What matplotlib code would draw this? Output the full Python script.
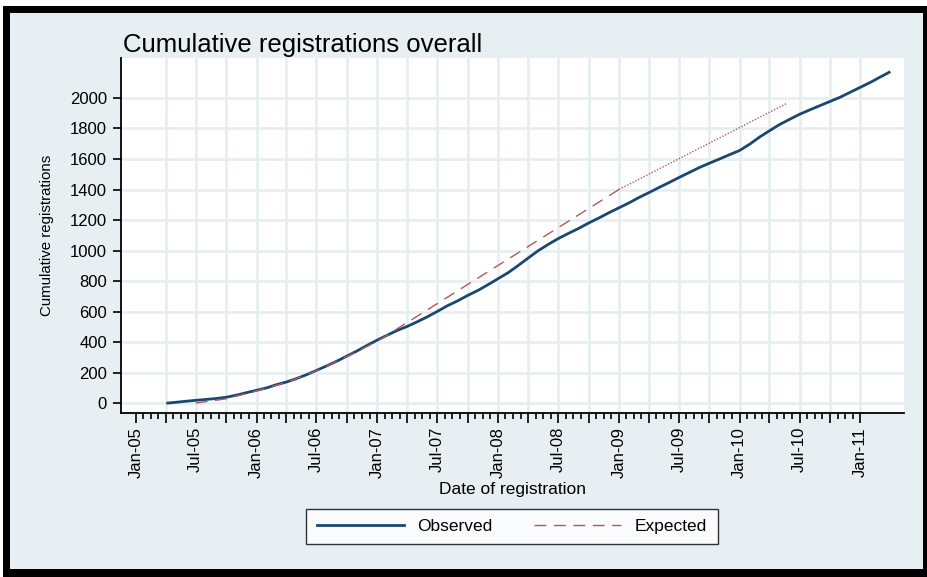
import numpy as np
import pandas as pd
import matplotlib
matplotlib.use('Agg')
import matplotlib.pyplot as plt
import matplotlib.dates as mdates
from matplotlib.patches import Rectangle

plt.rcParams['font.family'] = ['Liberation Sans', 'DejaVu Sans']

# observed cumulative registrations (months since Jan 2005)
obs_month = [3.2, 4, 5, 6, 7, 8, 9, 10, 11, 12, 13, 14, 15, 16, 17, 18, 19, 20,
             21, 22, 23, 24, 25, 26, 27, 28, 29, 30, 31, 32, 33, 34, 35, 36, 37,
             38, 39, 40, 41, 42, 43, 44, 45, 46, 47, 48, 49, 50, 51, 52, 53, 54,
             55, 56, 57, 58, 59, 60, 61, 62, 63, 64, 65, 66, 67, 68, 69, 70, 71,
             72, 73, 74, 74.9]
obs_value = [0, 5, 12, 18, 24, 30, 38, 52, 68, 84, 100, 120, 138, 160, 186, 214,
             244, 275, 308, 342, 378, 413, 446, 475, 502, 532, 565, 600, 638, 670,
             705, 738, 775, 815, 855, 900, 950, 998, 1040, 1078, 1112, 1145, 1180,
             1213, 1247, 1280, 1313, 1346, 1379, 1412, 1445, 1478, 1511, 1544, 1572,
             1600, 1628, 1656, 1698, 1742, 1785, 1825, 1860, 1893, 1922, 1950, 1977,
             2005, 2037, 2070, 2103, 2136, 2168]

# expected registrations: dashed part, then dotted projection
exp_month = [6, 9, 12, 15, 18, 21, 24, 48]
exp_value = [0, 28, 80, 135, 212, 305, 405, 1400]
proj_month = [48, 64.8]
proj_value = [1400, 1967]


def to_date(m):
    base = pd.Timestamp('2005-01-01')
    out = []
    for v in m:
        whole = int(np.floor(v))
        start = base + pd.DateOffset(months=whole)
        end = base + pd.DateOffset(months=whole + 1)
        out.append(start + (end - start) * (v - whole))
    return mdates.date2num(pd.to_datetime(out))


W, H = 928, 577
fig = plt.figure(figsize=(W / 100, H / 100), dpi=100, facecolor='white')
fig.patches.append(Rectangle((3 / W, 0), 1, 1 - 6 / H, transform=fig.transFigure,
                             facecolor='black', edgecolor='none', zorder=-10))
fig.patches.append(Rectangle((10 / W, 8 / H), (923 - 10) / W, (569 - 13) / H,
                             transform=fig.transFigure, facecolor='#e8eff2',
                             edgecolor='none', zorder=-9))

ax = fig.add_axes([121 / W, 1 - 413 / H, (904 - 121) / W, (413 - 58) / H])
ax.set_facecolor('white')

ax.plot(to_date(obs_month), obs_value, color='#1a476f', lw=2.0, zorder=3,
        label='Observed')
ax.plot(to_date(exp_month), exp_value, color='#b0585f', lw=1.0,
        dashes=(8.5, 5.5), zorder=4, label='Expected')
ax.plot(to_date(proj_month), proj_value, color='#b0585f', lw=1.0,
        dashes=(1.0, 1.2), zorder=4)

ax.set_xlim(mdates.date2num(pd.Timestamp('2004-11-17')),
            mdates.date2num(pd.Timestamp('2011-05-13')))
ax.set_ylim(-65, 2262)

quarters = pd.date_range('2005-01-01', '2011-01-01', freq='QS')
qnum = mdates.date2num(quarters)
ax.set_xticks(qnum)
labs = []
for d in quarters:
    labs.append(d.strftime('%b-%y') if d.month in (1, 7) else '')
ax.set_xticklabels(labs, rotation=90, fontsize=12)
minor = []
for a, b in zip(qnum[:-1], qnum[1:]):
    minor.extend(np.linspace(a, b, 5)[1:-1])
ax.set_xticks(minor, minor=True)

ax.set_yticks(np.arange(0, 2001, 200))
ax.tick_params(axis='y', labelsize=12, length=6, width=1.2, pad=4)
ax.tick_params(axis='x', which='major', length=7, width=1.2, pad=3)
ax.tick_params(axis='x', which='minor', length=4, width=1.2)

# grid: quarterly verticals from Apr-05, horizontals at y ticks
for q in qnum[1:]:
    ax.axvline(q, color='#e6eef1', lw=1.9, zorder=1)
for yv in np.arange(0, 2001, 200):
    ax.axhline(yv, color='#e6eef1', lw=1.9, zorder=1)

for s in ['top', 'right']:
    ax.spines[s].set_visible(False)
for s in ['left', 'bottom']:
    ax.spines[s].set_linewidth(1.3)

ax.set_ylabel('Cumulative registrations', fontsize=10.8)
ax.yaxis.set_label_coords(-0.086, 0.5)
ax.set_xlabel('Date of registration', fontsize=12.5)
ax.xaxis.set_label_coords(0.5, -0.195)

fig.text(123 / W, 1 - 52 / H, 'Cumulative registrations overall', fontsize=18.5,
         va='baseline', ha='left')

leg = fig.legend(loc='center', bbox_to_anchor=(512 / W, 1 - 526.5 / H), ncol=2,
                 fontsize=12.5, frameon=True, fancybox=False, edgecolor='black',
                 handlelength=5.0, handletextpad=0.8, columnspacing=2.4,
                 borderpad=0.6)
leg.get_frame().set_linewidth(1.0)

fig.savefig('out.png', dpi=100, facecolor=fig.get_facecolor())
